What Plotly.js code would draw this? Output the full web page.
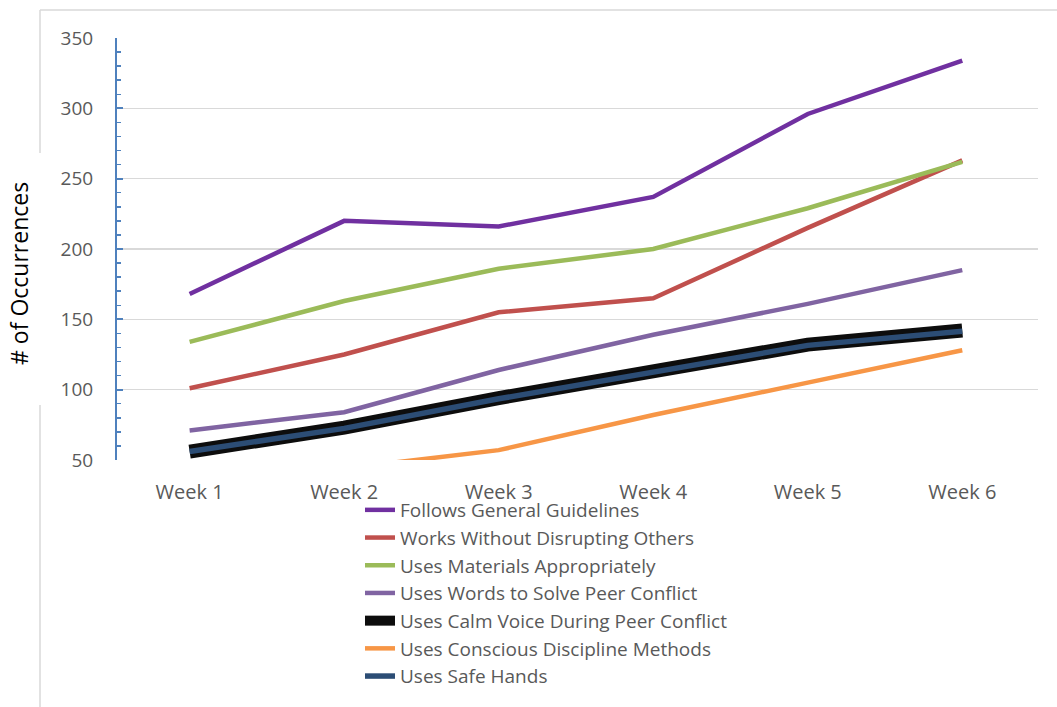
<!DOCTYPE html>
<html>
<head>
<meta charset="utf-8">
<script src="https://cdn.plot.ly/plotly-3.0.1.min.js"></script>
<style>html,body{margin:0;padding:0;background:#fff;}#chart{width:1057px;height:707px;}</style>
</head>
<body>
<div id="chart"></div>
<script>
const weeks = ["Week 1", "Week 2", "Week 3", "Week 4", "Week 5", "Week 6"];
const followsGuidelines = [168, 220, 216, 237, 296, 334];
const worksWithoutDisrupting = [101, 125, 155, 165, 215, 263];
const usesMaterials = [134, 163, 186, 200, 229, 262];
const usesWords = [71, 84, 114, 139, 161, 185];
const calmVoice = [56, 73, 94, 113, 132, 142];
const consciousDiscipline = [30, 44, 57, 82, 105, 128];
const safeHands = [56, 72.5, 93.5, 112.5, 131.5, 141.5];
const yTitle = "# of Occurrences";

const series = [
  {name: "Follows General Guidelines", y: followsGuidelines, color: "#7030A0", width: 4.5},
  {name: "Works Without Disrupting Others", y: worksWithoutDisrupting, color: "#C0504D", width: 4.5},
  {name: "Uses Materials Appropriately", y: usesMaterials, color: "#9BBB59", width: 4.5},
  {name: "Uses Words to Solve Peer Conflict", y: usesWords, color: "#8064A2", width: 4.5},
  {name: "Uses Calm Voice During Peer Conflict", y: calmVoice, color: "#0D0D0D", width: 14},
  {name: "Uses Conscious Discipline Methods", y: consciousDiscipline, color: "#F79646", width: 4.5},
  {name: "Uses Safe Hands", y: safeHands, color: "#2C4D75", width: 5.5}
];

const traces = series.map(s => ({
  type: "scatter", mode: "lines", x: weeks, y: s.y, name: s.name,
  line: {color: s.color, width: s.width}
}));

const L = 117, R = 1038, T = 38, B = 460;
const px = v => (v - L) / (R - L);
const py = v => (B - v) / (B - T);
const border = "#D9D9D9";
const FONT = "'Open Sans', Lato, sans-serif";

const layout = {
  width: 1057, height: 707,
  margin: {l: L, r: 1057 - R, t: T, b: 707 - B, autoexpand: false},
  paper_bgcolor: "#fff", plot_bgcolor: "#fff",
  font: {family: FONT, color: "#595959", size: 20},
  showlegend: true,
  legend: {
    x: px(360), y: py(491), xanchor: "left", yanchor: "top",
    orientation: "v", font: {size: 19, color: "#595959"},
    tracegroupgap: 0, bgcolor: "rgba(0,0,0,0)"
  },
  xaxis: {
    type: "category", range: [-0.47, 5.49], automargin: false,
    showgrid: false, zeroline: false, showline: false,
    ticks: "", ticklabelstandoff: 18,
    tickfont: {size: 20, color: "#595959"}
  },
  yaxis: {
    range: [50, 350], dtick: 50, tick0: 50, automargin: false,
    showgrid: true, gridcolor: "#D9D9D9", gridwidth: 1.5,
    zeroline: false, showline: true, linecolor: "#4F81BD", linewidth: 2,
    ticks: "inside", ticklen: 6, tickcolor: "#4F81BD", tickwidth: 2,
    minor: {dtick: 10, ticks: "inside", ticklen: 4, tickcolor: "#4F81BD", tickwidth: 1.5, showgrid: false},
    ticklabelstandoff: 18,
    tickfont: {size: 19, color: "#595959"}
  },
  annotations: [
    {text: yTitle, xref: "paper", yref: "paper", x: px(19), y: py(274), textangle: -90,
     showarrow: false, xanchor: "center", yanchor: "middle", font: {size: 23, color: "#000", family: FONT}}
  ],
  shapes: [
    {type: "line", xref: "paper", yref: "paper", x0: px(40), x1: px(1057), y0: py(10), y1: py(10), line: {color: border, width: 1.5}},
    {type: "line", xref: "paper", yref: "paper", x0: px(40), x1: px(40), y0: py(10), y1: py(153), line: {color: border, width: 1.5}},
    {type: "line", xref: "paper", yref: "paper", x0: px(40), x1: px(40), y0: py(405), y1: py(707), line: {color: border, width: 1.5}}
  ]
};

Plotly.newPlot("chart", traces, layout, {displayModeBar: false, staticPlot: true});
</script>
</body>
</html>
